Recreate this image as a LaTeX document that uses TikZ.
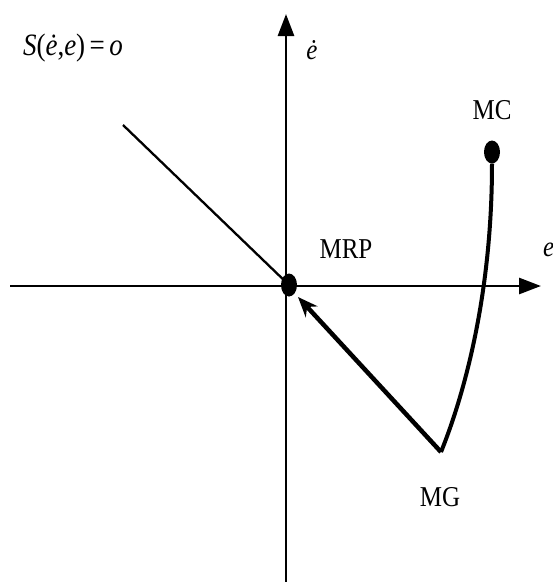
\documentclass[tikz,border=0pt]{standalone}
\usepackage{fontspec}
\setmainfont{Liberation Serif}
\usetikzlibrary{arrows.meta,shapes.geometric}
\begin{document}
\begin{tikzpicture}[x=1pt,y=-1pt,
  lab/.style={font=\fontsize{25}{28}\selectfont, inner sep=0pt},
  axis/.style={line width=2.8pt, -{Triangle[length=22pt,width=16pt]}},
  dot/.style={ellipse, fill=black, minimum width=16pt, minimum height=23pt, inner sep=0pt}]
\useasboundingbox (0,0) rectangle (553,582);
\coordinate (vb) at (286,582);
\coordinate (vt) at (286,14);
\coordinate (hl) at (10,286);
\coordinate (hr) at (541,286);
\coordinate (dg) at (123,125);
\coordinate (mg) at (441,452);
\draw[axis] (vb) -- (vt);
\draw[axis] (hl) -- (hr);
\draw[line width=2.3pt] (dg) -- (289,285);
\node[dot] (mrp) at (289,285) {};
\node[dot] (mc) at (492,152) {};
\draw[line width=4.5pt, -{Stealth[length=20pt,width=16pt]}] (mg) -- (298,297);
\draw[line width=4pt] (mc.south) .. controls (492,300) and (462,400) .. (mg);
\node[lab, font=\fontsize{27}{30}\selectfont] (s) at (73,48) {\scalebox{1}[1.15]{\textit{S}(\textit{ė},\textit{e})\,=\,\textit{o}}};
\node[lab] (ed) at (312,50) {\scalebox{1}[1.15]{\textit{ė}}};
\node[lab] (mclab) at (492,110) {\scalebox{1}[1.15]{MC}};
\node[lab] (mrplab) at (346,249) {\scalebox{1}[1.15]{MRP}};
\node[lab, anchor=west] (elab) at (543,250) {\scalebox{1}[1.15]{\textit{e}}};
\node[lab] (mglab) at (440,497) {\scalebox{1}[1.15]{MG}};
\end{tikzpicture}
\end{document}
